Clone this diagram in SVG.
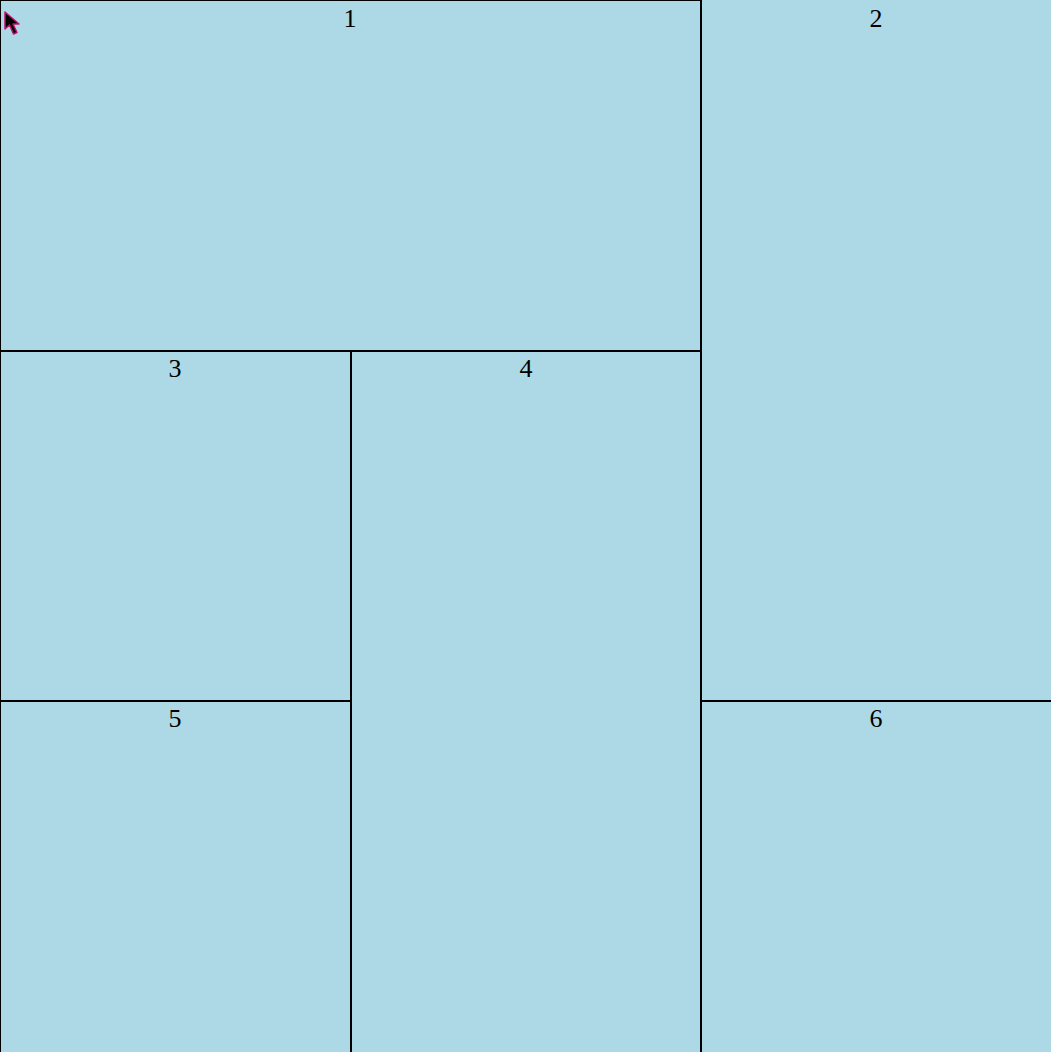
<svg xmlns="http://www.w3.org/2000/svg" width="1051" height="1052" viewBox="0 0 1051 1052">
<style>
.cell{fill:#ADD8E6;stroke:#000;stroke-width:2}
.lbl{font-family:"Liberation Serif",serif;font-size:26px;fill:#000;text-anchor:middle}
</style>
<rect x="0" y="0" width="1051" height="1052" fill="#ADD8E6"/>
<g id="node1"><rect class="cell" x="0" y="0" width="701" height="351"/><text class="lbl" x="350" y="27">1</text></g>
<g id="node2"><rect class="cell" x="701" y="-1" width="352" height="702"/><text class="lbl" x="876" y="27">2</text></g>
<g id="node3"><rect class="cell" x="0" y="351" width="351" height="350"/><text class="lbl" x="175" y="377">3</text></g>
<g id="node4"><rect class="cell" x="351" y="351" width="350" height="703"/><text class="lbl" x="526" y="377">4</text></g>
<g id="node5"><rect class="cell" x="0" y="701" width="351" height="353"/><text class="lbl" x="175" y="727">5</text></g>
<g id="node6"><rect class="cell" x="701" y="701" width="352" height="353"/><text class="lbl" x="876" y="727">6</text></g>
<g id="connectors"></g>
<polygon points="5,12 5,29 9.5,25 13.5,34 17,32.5 13,24 19,24" fill="#000" stroke="#c0106a" stroke-width="1.5" stroke-linejoin="round"/>
</svg>
